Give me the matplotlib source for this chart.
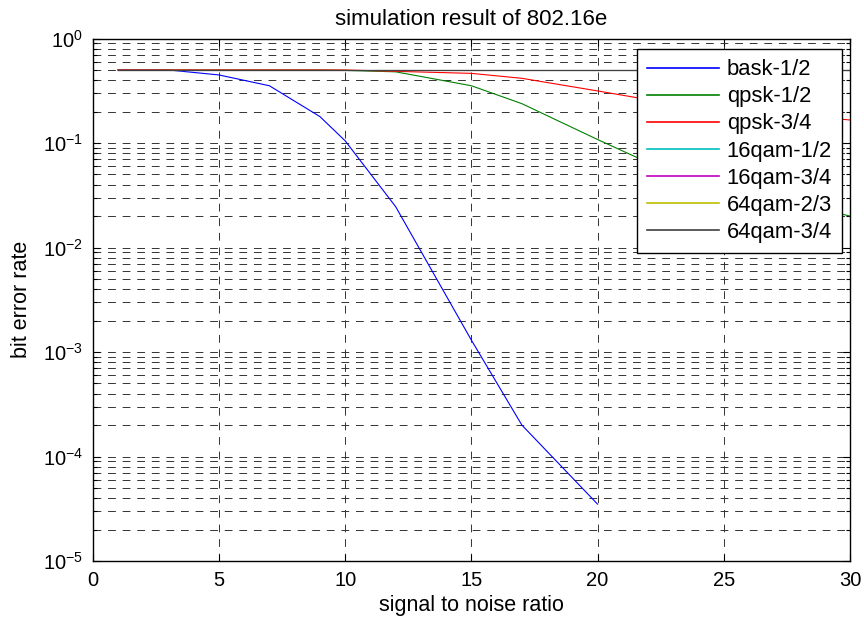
import matplotlib
matplotlib.use("Agg")
import matplotlib.pyplot as plt
import numpy as np

plt.rcParams['font.family'] = ['Liberation Sans', 'DejaVu Sans']
plt.rcParams['mathtext.default'] = 'regular'
plt.rcParams['axes.unicode_minus'] = False

# SNR points (dB) used in the simulation
snr = [1, 3, 5, 7, 9, 10, 12, 15, 17, 20, 22, 25, 30]
snr_bask = [1, 3, 5, 7, 9, 10, 12, 15, 17, 20]

ber_bask_12 = [0.5, 0.5, 0.448, 0.353, 0.179, 0.105, 0.0246, 1.30e-3, 2.0e-4, 3.5e-5]
ber_qpsk_12 = [0.5, 0.5, 0.5, 0.5, 0.5, 0.495, 0.48, 0.353, 0.238, 0.108, 0.065, 0.038, 0.02]
ber_qpsk_34 = [0.5, 0.5, 0.5, 0.5, 0.5, 0.5, 0.485, 0.464, 0.416, 0.315, 0.26, 0.216, 0.166]
ber_16qam_12 = [0.5] * len(snr)
ber_16qam_34 = [0.5] * len(snr)
ber_64qam_23 = [0.5] * len(snr)
ber_64qam_34 = [0.5] * len(snr)

labels = ['bask-1/2', 'qpsk-1/2', 'qpsk-3/4', '16qam-1/2',
          '16qam-3/4', '64qam-2/3', '64qam-3/4']
colors = [(0, 0, 1), (0, 0.5, 0), (1, 0, 0), (0, 0.75, 0.75),
          (0.75, 0, 0.75), (0.75, 0.75, 0), (0.25, 0.25, 0.25)]

fig = plt.figure(figsize=(8.64, 6.19), dpi=100)
ax = fig.add_axes([0.1073, 0.0937, 0.8765, 0.8441])

series = [(snr_bask, ber_bask_12), (snr, ber_qpsk_12), (snr, ber_qpsk_34),
          (snr, ber_16qam_12), (snr, ber_16qam_34), (snr, ber_64qam_23),
          (snr, ber_64qam_34)]
for (x, y), lab, c in zip(series, labels, colors):
    ax.semilogy(x, y, color=c, lw=0.8, label=lab)

ax.set_xlim(0, 30)
ax.set_ylim(1e-5, 1)
ax.set_xticks(np.arange(0, 31, 5))

ax.grid(True, which='major', axis='x', color='0.2', lw=0.7, dashes=(8, 7))
ax.grid(True, which='both', axis='y', color='0.2', lw=0.7, dashes=(8, 7))
ax.set_axisbelow(True)

ax.tick_params(which='both', direction='in', top=True, right=True,
               labelsize=14.5, width=0.8)
ax.tick_params(which='major', length=5, pad=7)
ax.tick_params(which='minor', length=3)
for s in ax.spines.values():
    s.set_linewidth(1.0)

ax.set_title('simulation result of 802.16e', fontsize=16, pad=10)
ax.set_xlabel('signal to noise ratio', fontsize=15.5, labelpad=4)
ax.set_ylabel('bit error rate', fontsize=15.5, labelpad=8)

leg = ax.legend(loc='upper right', bbox_to_anchor=(0.9894, 0.9793),
                borderaxespad=0, fancybox=False, framealpha=1,
                edgecolor='k', fontsize=15.8, handlelength=3.3,
                handletextpad=0.35, labelspacing=0.28, borderpad=0.45)
leg.get_frame().set_linewidth(1.0)
for h in leg.get_lines():
    h.set_linewidth(1.2)

fig.savefig('out.png', dpi=100)
